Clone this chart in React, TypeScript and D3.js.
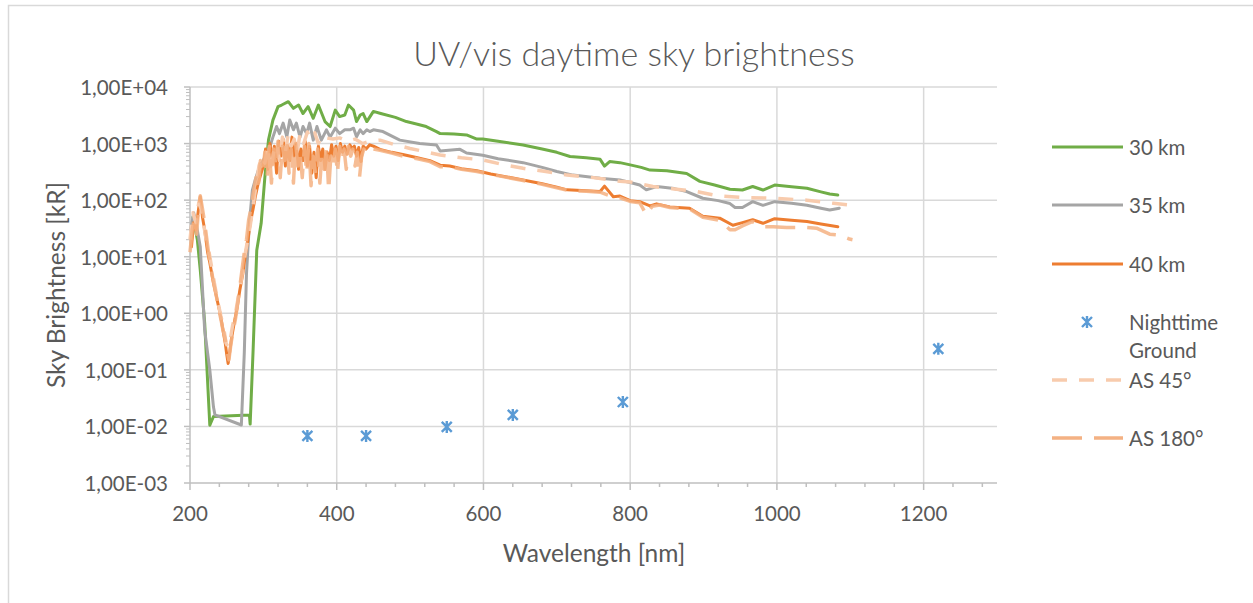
import React from "react";
import * as d3 from "d3";

// ---- data ----
const wl30 = [204, 210, 214, 220, 227, 232, 281, 282, 286, 291, 297, 302, 307, 313, 320, 325, 334, 341, 348, 354, 361, 368, 375, 384, 391, 398, 404, 411, 416, 423, 427, 432, 436, 441, 450, 460, 480, 495, 510, 522, 536, 541, 560, 577, 591, 599, 620, 654, 680, 700, 718, 740, 759, 765, 772, 786, 800, 815, 827, 850, 877, 895, 915, 936, 953, 967, 981, 997, 1020, 1041, 1060, 1072, 1083];
const val30 = [50, 20, 5.8, 0.68, 0.0105, 0.015, 0.016, 0.011, 0.22, 13, 39, 250, 1160, 2600, 4500, 4800, 5500, 4200, 4800, 3400, 4500, 2800, 4800, 2450, 2000, 3900, 3000, 3200, 4800, 3900, 2450, 3200, 3400, 2450, 3700, 3400, 2900, 2450, 2200, 2000, 1630, 1500, 1480, 1420, 1200, 1200, 1100, 944, 800, 700, 590, 560, 527, 400, 480, 460, 420, 380, 340, 330, 296, 215, 185, 156, 151, 174, 151, 185, 172, 162, 140, 128, 123];

const wl35 = [201, 205, 209, 214, 220, 227, 232, 234, 270, 274, 277, 281, 285, 289, 295, 300, 304, 309, 313, 318, 322, 327, 332, 336, 341, 345, 350, 354, 359, 363, 368, 373, 379, 386, 391, 398, 404, 411, 418, 423, 427, 432, 436, 441, 445, 450, 463, 486, 513, 536, 541, 568, 577, 599, 620, 654, 680, 700, 722, 759, 786, 800, 813, 822, 836, 860, 877, 899, 920, 936, 943, 953, 967, 981, 997, 1020, 1041, 1060, 1072, 1085];
const val35 = [30, 60, 35, 15, 0.5, 0.1, 0.022, 0.016, 0.0106, 0.2, 5, 40, 150, 230, 400, 500, 680, 890, 1300, 2000, 1500, 2300, 1320, 2600, 1750, 2300, 1300, 2000, 1500, 2300, 1150, 2000, 1150, 1750, 1300, 1870, 1500, 1750, 1750, 1870, 1320, 1750, 1500, 1750, 1630, 1750, 1630, 1150, 1000, 944, 740, 790, 680, 620, 540, 460, 380, 320, 277, 243, 227, 205, 185, 152, 174, 160, 142, 108, 98, 87, 74, 74, 94, 81, 94, 88, 81, 72, 67, 72];

const wl40 = [202, 205, 208, 211, 214, 217, 220, 224, 227, 231, 234, 238, 241, 245, 248, 250, 252, 255, 257, 261, 264, 268, 272, 275, 279, 282, 286, 289, 293, 297, 300, 303, 306, 309, 312, 315, 318, 321, 324, 327, 330, 333, 336, 339, 342, 345, 348, 351, 354, 357, 360, 363, 366, 369, 372, 375, 378, 381, 384, 387, 390, 393, 396, 399, 402, 405, 408, 411, 414, 418, 421, 424, 427, 430, 433, 436, 440, 445, 450, 459, 475, 490, 510, 527, 541, 554, 570, 591, 610, 630, 654, 680, 700, 714, 740, 759, 765, 777, 786, 800, 813, 827, 836, 854, 881, 899, 922, 940, 953, 967, 981, 997, 1020, 1041, 1060, 1083];
const val40 = [15, 40, 30, 60, 115, 50, 30, 12, 7.8, 4, 2.6, 1.5, 1, 0.5, 0.3, 0.19, 0.13, 0.25, 0.39, 0.76, 1.2, 2.6, 5, 10, 20, 39, 70, 115, 200, 300, 400, 800, 350, 1000, 500, 900, 300, 1100, 600, 1200, 400, 900, 500, 1300, 600, 1000, 350, 800, 500, 1100, 400, 900, 300, 700, 250, 900, 500, 800, 350, 700, 500, 950, 600, 900, 500, 1000, 700, 900, 650, 950, 800, 900, 600, 850, 480, 900, 800, 950, 900, 790, 700, 640, 560, 500, 415, 400, 360, 330, 290, 260, 227, 195, 170, 152, 147, 142, 177, 115, 118, 98, 94, 79, 86, 76, 72, 52, 48, 36, 40, 45, 39, 47, 44, 42, 38, 34];

const wlNight = [360, 440, 550, 640, 790, 1220];
const valNight = [0.0068, 0.0068, 0.0098, 0.016, 0.027, 0.235];

const wlAS45 = [200, 204, 208, 212, 215, 219, 222, 226, 230, 234, 238, 242, 246, 249, 252, 255, 258, 262, 266, 270, 274, 278, 282, 286, 290, 294, 298, 302, 306, 310, 314, 318, 322, 326, 330, 334, 338, 342, 346, 350, 355, 360, 365, 370, 375, 380, 387, 395, 404, 415, 425, 435, 445, 459, 480, 500, 520, 541, 570, 599, 625, 654, 685, 714, 750, 786, 800, 831, 860, 890, 922, 950, 995, 1041, 1077, 1103];
const valAS45 = [20, 60, 40, 90, 70, 35, 20, 12, 6, 3, 1.6, 0.9, 0.55, 0.3, 0.25, 0.35, 0.6, 1, 2, 4, 9, 18, 35, 80, 180, 400, 600, 450, 900, 300, 700, 1000, 500, 1300, 700, 1500, 900, 1200, 700, 1500, 1000, 1600, 1200, 1550, 1000, 1400, 1250, 1200, 1260, 1100, 1200, 1000, 1100, 1150, 950, 820, 720, 630, 560, 515, 430, 365, 320, 277, 250, 215, 210, 174, 158, 142, 118, 112, 108, 100, 88, 81];

const wlAS180 = [200, 203, 206, 209, 212, 214, 217, 220, 223, 226, 229, 232, 236, 239, 242, 245, 248, 251, 253, 256, 259, 262, 265, 268, 271, 274, 277, 280, 283, 286, 290, 293, 296, 299, 302, 305, 308, 311, 314, 317, 320, 323, 326, 329, 332, 335, 338, 341, 344, 347, 350, 353, 356, 359, 362, 365, 368, 371, 374, 377, 380, 383, 386, 389, 392, 395, 398, 401, 404, 407, 410, 413, 416, 419, 422, 425, 428, 431, 434, 437, 441, 445, 450, 459, 475, 490, 510, 527, 541, 554, 570, 591, 610, 630, 654, 680, 700, 714, 740, 759, 777, 786, 800, 813, 822, 830, 840, 854, 881, 899, 922, 936, 943, 953, 967, 981, 995, 1013, 1041, 1054, 1072, 1085, 1099, 1103];
const valAS180 = [12, 30, 50, 25, 80, 120, 70, 40, 20, 10, 6, 3.5, 2, 1.2, 0.8, 0.5, 0.35, 0.2, 0.15, 0.3, 0.5, 0.8, 1.5, 3, 6, 12, 20, 45, 70, 130, 250, 150, 500, 300, 700, 250, 900, 200, 800, 400, 1100, 250, 900, 500, 1200, 300, 800, 200, 1000, 400, 700, 250, 900, 300, 1000, 180, 600, 300, 800, 200, 700, 350, 900, 150, 600, 400, 800, 300, 900, 500, 800, 350, 900, 600, 800, 400, 700, 250, 600, 800, 700, 850, 800, 760, 680, 600, 540, 480, 390, 390, 350, 320, 285, 255, 222, 190, 165, 150, 143, 138, 113, 110, 95, 90, 55, 78, 82, 74, 70, 50, 44, 30, 30, 35, 42, 34, 34, 33, 33, 32, 25, 24, 20.5, 20];

const yTicks = [1e-3, 1e-2, 1e-1, 1, 1e1, 1e2, 1e3, 1e4];
const yTickLabels = ["1,00E-03", "1,00E-02", "1,00E-01", "1,00E+00", "1,00E+01", "1,00E+02", "1,00E+03", "1,00E+04"];
const xTicks = [200, 400, 600, 800, 1000, 1200];
const xMinorTicks = d3.range(200, 1301, 40);

const FONT = "Lato, 'Open Sans', sans-serif";
const TXT = "#595959";

type Series = { name: string; wl: number[]; val: number[]; color: string; width: number; dash?: string; opacity?: number };

const lineSeries: Series[] = [
  { name: "30 km", wl: wl30, val: val30, color: "#70ad47", width: 3 },
  { name: "35 km", wl: wl35, val: val35, color: "#a5a5a5", width: 3 },
  { name: "40 km", wl: wl40, val: val40, color: "#ed7d31", width: 3 },
  { name: "AS 45°", wl: wlAS45, val: valAS45, color: "#f8cbad", width: 3.5, dash: "15,12" },
  { name: "AS 180°", wl: wlAS180, val: valAS180, color: "#f4b183", width: 3.5, dash: "30,12", opacity: 0.85 },
];

const starPath = "M-5,-5L5,5M5,-5L-5,5M0,-6L0,6";

export default function App() {
  const W = 1253, H = 603;
  const x = d3.scaleLinear().domain([200, 1300]).range([190, 997]);
  const y = d3.scaleLog().domain([1e-3, 1e4]).range([483, 87]);
  const line = d3.line<[number, number]>().x((d) => x(d[0])).y((d) => y(d[1]));

  const minorY: number[] = [];
  for (let e = -3; e < 4; e++) for (let k = 2; k <= 9; k++) minorY.push(k * Math.pow(10, e));

  const legendItems = [
    { label: ["30 km"], y: 147, kind: "line", s: lineSeries[0] },
    { label: ["35 km"], y: 205, kind: "line", s: lineSeries[1] },
    { label: ["40 km"], y: 264, kind: "line", s: lineSeries[2] },
    { label: ["Nighttime", "Ground"], y: 322, kind: "marker" },
    { label: ["AS 45°"], y: 380, kind: "line", s: lineSeries[3] },
    { label: ["AS 180°"], y: 438, kind: "line", s: lineSeries[4] },
  ];

  return (
    <svg width={W} height={H} style={{ position: "absolute", left: 0, top: 0, background: "#fff" }} fontFamily={FONT}>
      <rect x={0} y={0} width={W} height={H} fill="#fff" />
      {/* chart border */}
      <path d={`M8.5,${H}V5.5H${W}`} fill="none" stroke="#d9d9d9" strokeWidth={1.5} />
      {/* title */}
      <text x={634} y={52} textAnchor="middle" dominantBaseline="central" fontSize={34} fill={TXT} fontWeight={300}>
        UV/vis daytime sky brightness
      </text>
      {/* grid */}
      {yTicks.slice(1).map((t) => (
        <line key={"gy" + t} x1={190} x2={997} y1={y(t)} y2={y(t)} stroke="#d9d9d9" strokeWidth={1.5} />
      ))}
      {xTicks.slice(1).map((t) => (
        <line key={"gx" + t} x1={x(t)} x2={x(t)} y1={87} y2={483} stroke="#d9d9d9" strokeWidth={1.5} />
      ))}
      {/* axes */}
      <line x1={190} x2={190} y1={87} y2={483} stroke="#bfbfbf" strokeWidth={1.5} />
      <line x1={190} x2={997} y1={483} y2={483} stroke="#bfbfbf" strokeWidth={1.5} />
      {yTicks.map((t) => (
        <line key={"ty" + t} x1={184} x2={190} y1={y(t)} y2={y(t)} stroke="#bfbfbf" strokeWidth={1.5} />
      ))}
      {minorY.map((t, i) => (
        <line key={"my" + i} x1={186} x2={190} y1={y(t)} y2={y(t)} stroke="#bfbfbf" strokeWidth={1} />
      ))}
      {xMinorTicks.map((t) => (
        <line key={"tx" + t} x1={x(t)} x2={x(t)} y1={483} y2={xTicks.includes(t) ? 490 : 487} stroke="#bfbfbf" strokeWidth={1.5} />
      ))}
      {yTicks.map((t, i) => (
        <text key={"ly" + t} x={168} y={y(t)} textAnchor="end" dominantBaseline="central" fontSize={20.5} fill={TXT}>
          {yTickLabels[i]}
        </text>
      ))}
      {xTicks.map((t) => (
        <text key={"lx" + t} x={x(t)} y={513} textAnchor="middle" dominantBaseline="central" fontSize={20.5} fill={TXT}>
          {t}
        </text>
      ))}
      {/* axis titles */}
      <text x={594} y={552} textAnchor="middle" dominantBaseline="central" fontSize={24.5} fill={TXT}>
        Wavelength [nm]
      </text>
      <text transform="translate(55,285) rotate(-90)" textAnchor="middle" dominantBaseline="central" fontSize={24.5} fill={TXT}>
        Sky Brightness [kR]
      </text>
      {/* series */}
      {lineSeries.slice(0, 3).map((s) => (
        <path key={s.name} d={line(s.wl.map((w, i) => [w, s.val[i]]) as [number, number][]) || ""} fill="none" stroke={s.color} strokeWidth={s.width} strokeLinejoin="round" strokeLinecap="round" />
      ))}
      {wlNight.map((w, i) => (
        <path key={"n" + w} d={starPath} transform={`translate(${x(w)},${y(valNight[i])})`} fill="none" stroke="#5b9bd5" strokeWidth={2.4} />
      ))}
      {lineSeries.slice(3).map((s) => (
        <path key={s.name} d={line(s.wl.map((w, i) => [w, s.val[i]]) as [number, number][]) || ""} fill="none" stroke={s.color} strokeWidth={s.width} strokeDasharray={s.dash} strokeOpacity={s.opacity ?? 1} strokeLinejoin="round" />
      ))}
      {/* legend */}
      {legendItems.map((it) => (
        <g key={it.label[0]}>
          {it.kind === "line" && it.s ? (
            <line x1={1052} x2={1123} y1={it.y} y2={it.y} stroke={it.s.color} strokeWidth={it.s.width} strokeDasharray={it.s.dash} />
          ) : (
            <path d={starPath} transform={`translate(1087,${it.y})`} fill="none" stroke="#5b9bd5" strokeWidth={2.4} />
          )}
          {it.label.map((l, j) => (
            <text key={l} x={1129} y={it.y + j * 28} dominantBaseline="central" fontSize={20.5} fill={TXT}>
              {l}
            </text>
          ))}
        </g>
      ))}
    </svg>
  );
}
